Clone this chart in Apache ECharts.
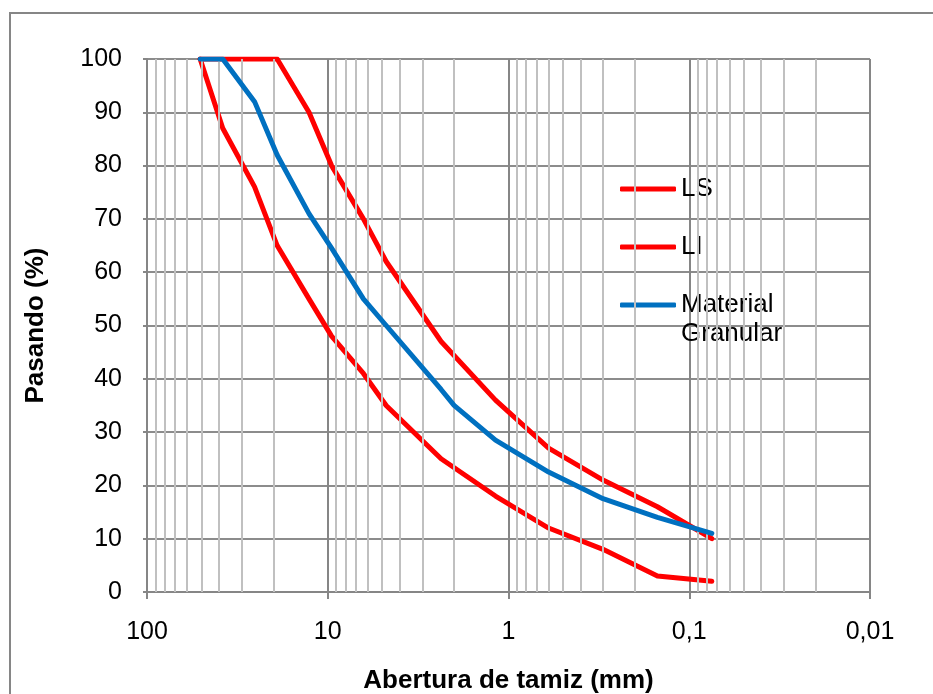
<!DOCTYPE html>
<html>
<head>
<meta charset="utf-8">
<script src="https://cdn.jsdelivr.net/npm/echarts@6/dist/echarts.min.js"></script>
<style>
html,body{margin:0;padding:0;background:#fff;}
#chart{width:933px;height:694px;}
</style>
</head>
<body>
<div id="chart"></div>
<script>
// Sieve openings (mm) and percent passing
var lsSizes = [50.8, 38.1, 25.4, 19.05, 12.7, 9.525, 6.35, 4.75, 2.36, 1.18, 0.6, 0.3, 0.15, 0.075];
var lsValues = [100, 100, 100, 100, 90, 80, 70, 62, 47, 36, 27, 21, 16, 10];
var liSizes = [50.8, 38.1, 25.4, 19.05, 12.7, 9.525, 6.35, 4.75, 2.36, 1.18, 0.6, 0.3, 0.15, 0.075];
var liValues = [100, 87, 76, 65, 55, 48, 41, 35, 25, 18, 12, 8, 3, 2];
var matSizes = [50.8, 38.1, 25.4, 19.05, 12.7, 9.525, 6.35, 4.75, 2.36, 2.0, 1.18, 0.6, 0.3, 0.15, 0.075];
var matValues = [100, 100, 92, 82, 71, 64.5, 55, 50, 38, 35, 28.5, 22.5, 17.5, 14, 11];

var xTickValues = [100, 10, 1, 0.1, 0.01];
var xTickLabels = ['100', '10', '1', '0,1', '0,01'];
var minorMultipliers = [2, 3, 4, 5, 6, 7, 8, 9];
var minorDecades = [10, 1, 0.1, 0.01];

function pairs(xs, ys) { return xs.map(function (x, i) { return [x, ys[i]]; }); }

var minorLines = [];
minorDecades.forEach(function (d) {
  minorMultipliers.forEach(function (m) {
    minorLines.push({ xAxis: +(m * d).toPrecision(6) });
  });
});

var font = '"Liberation Sans", Arial, sans-serif';
var chart = echarts.init(document.getElementById('chart'), null, { renderer: 'canvas' });

function lineSeries(name, data, color, z) {
  return {
    name: name, type: 'line', data: data, showSymbol: false, symbol: 'none',
    z: z, silent: true,
    lineStyle: { color: color, width: 5, cap: 'round', join: 'round' },
    itemStyle: { color: color }
  };
}

chart.setOption({
  animation: false,
  backgroundColor: '#ffffff',
  graphic: [{
    type: 'rect', silent: true, z: -10,
    shape: { x: 10, y: 13, width: 1000, height: 1000 },
    style: { fill: 'none', stroke: '#868686', lineWidth: 2 }
  }],
  grid: { left: 147, top: 59, right: 63, bottom: 102, containLabel: false, outerBoundsMode: 'none' },
  legend: [{
    data: ['LS', 'LI'], orient: 'vertical', left: 620, top: 174.5, padding: 0,
    itemGap: 29, itemWidth: 56, itemHeight: 5, icon: 'roundRect',
    selectedMode: false,
    textStyle: { fontFamily: font, fontSize: 26, color: '#000', lineHeight: 29 }
  }, {
    data: ['Material Granular'], orient: 'vertical', left: 620, top: 261.5, padding: 0,
    itemWidth: 56, itemHeight: 5, icon: 'roundRect', selectedMode: false,
    formatter: function () { return ' \nMaterial\nGranular'; },
    textStyle: { fontFamily: font, fontSize: 26, color: '#000', lineHeight: 29 }
  }],
  xAxis: {
    type: 'log', logBase: 10, min: 0.01, max: 100, inverse: true,
    name: 'Abertura de tamiz (mm)', nameLocation: 'middle', nameGap: 76,
    nameTextStyle: { fontFamily: font, fontSize: 26, fontWeight: 'bold', color: '#000' },
    axisLine: { show: true, onZero: false, lineStyle: { color: '#868686', width: 2 } },
    axisTick: { show: true, length: 7, lineStyle: { color: '#868686', width: 2 } },
    axisLabel: {
      margin: 28, fontFamily: font, fontSize: 25, color: '#000',
      formatter: function (v) {
        var k = Math.round(Math.log10(v));
        var idx = xTickValues.findIndex(function (t) { return Math.round(Math.log10(t)) === k; });
        return idx >= 0 ? xTickLabels[idx] : '';
      }
    },
    splitLine: { show: true, lineStyle: { color: '#868686', width: 2 } }
  },
  yAxis: {
    type: 'value', min: 0, max: 100, interval: 10,
    name: 'Pasando (%)', nameLocation: 'middle', nameGap: 98,
    nameTextStyle: { fontFamily: font, fontSize: 26, fontWeight: 'bold', color: '#000' },
    axisLine: { show: true, lineStyle: { color: '#868686', width: 2 } },
    axisTick: { show: true, length: 4, lineStyle: { color: '#868686', width: 2 } },
    axisLabel: { margin: 25, fontFamily: font, fontSize: 25, color: '#000' },
    splitLine: { show: true, lineStyle: { color: '#8c8c8c', width: 2 } }
  },
  series: [
    {
      name: 'minor', type: 'line', data: [], silent: true, z: 1,
      markLine: {
        silent: true, symbol: 'none', animation: false,
        label: { show: false },
        lineStyle: { color: '#c0c0c0', width: 2, type: 'solid' },
        data: minorLines
      }
    },
    lineSeries('LS', pairs(lsSizes, lsValues), '#ff0000', 3),
    lineSeries('LI', pairs(liSizes, liValues), '#ff0000', 4),
    lineSeries('Material Granular', pairs(matSizes, matValues), '#0070c0', 5)
  ]
});
</script>
</body>
</html>
